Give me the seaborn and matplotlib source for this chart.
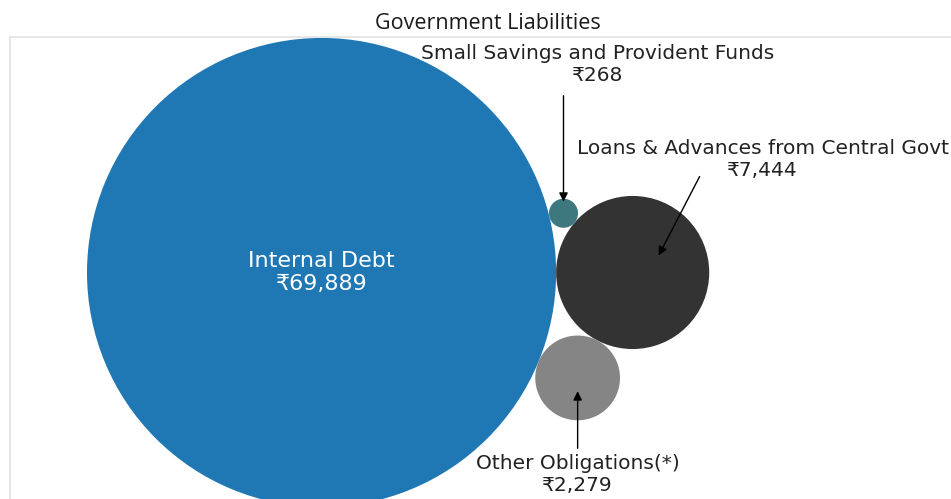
import numpy as np
import pandas as pd
import seaborn as sns
import matplotlib
matplotlib.use("Agg")
import matplotlib.pyplot as plt
from matplotlib.transforms import offset_copy

# Liabilities (₹ crore)
labels = ["Internal Debt", "Loans & Advances from Central Govt",
          "Small Savings and Provident Funds", "Other Obligations(*)"]
values = [69889, 7444, 268, 2279]
colors = ["#1f77b4", "#333333", "#3c787e", "#858585"]

sns.set_theme(style="white")
plt.rcParams["font.family"] = ["DejaVu Sans"]

DPI = 100
fig = plt.figure(figsize=(9.51, 4.99), dpi=DPI)
ax = fig.add_axes([10 / 951, 1 - 508 / 499, 956 / 951, 471 / 499])

# ---- simple circle packing: largest circle at origin, second tangent to its
# right, the remaining two tangent to both (one above, one below) ----
radii = np.sqrt(np.array(values, dtype=float))
rA, rB, rC, rD = radii
cx = np.zeros(4)
cy = np.zeros(4)
cx[1] = rA + rB


def tangent_to_both(r, side):
    d = rA + rB
    p, q = rA + r, rB + r
    a = (d ** 2 + p ** 2 - q ** 2) / (2 * d)
    h = np.sqrt(p ** 2 - a ** 2)
    return a, side * h


cx[2], cy[2] = tangent_to_both(rC, +1)
cx[3], cy[3] = tangent_to_both(rD, -1)

# axis limits chosen so the data aspect is 1:1 inside the axes box
ax_w_px, ax_h_px = 956, 471
yext = rA * 1.004
px_per_unit = ax_h_px / (2 * yext)
x0 = -rA - 77 / px_per_unit
ax.set_xlim(x0, x0 + ax_w_px / px_per_unit)
ax.set_ylim(-yext, yext)

df = pd.DataFrame({"x": cx, "y": cy, "value": values, "label": labels})

# marker area in points^2 proportional to value
d_max_pt = 2 * radii.max() * px_per_unit * 72 / DPI
sns.scatterplot(data=df, x="x", y="y", hue="label", size="value",
                palette=dict(zip(labels, colors)),
                sizes=(0, d_max_pt ** 2), size_norm=(0, max(values)),
                linewidth=0, legend=False, ax=ax, zorder=2)

ax.set_xlabel("")
ax.set_ylabel("")
ax.set_xticks([])
ax.set_yticks([])
for sp in ax.spines.values():
    sp.set_color("#e3e3e3")
    sp.set_linewidth(1.2)

ax.set_title("Government Liabilities", family=["Open Sans", "DejaVu Sans"],
             fontsize=15.5, color="#1a1a1a", pad=6)


def rupee(v):
    return f"\u20b9{v:,}"


txt_color = "#222222"
fs = 14.5

# largest circle labelled inside
ax.annotate(f"{labels[0]}\n{rupee(values[0])}", xy=(cx[0], cy[0]),
            xytext=(0, 0), textcoords="offset points",
            ha="center", va="center", ma="center",
            color="white", fontsize=16, zorder=3)

# callouts: (label index, text offset, arrow tail offset, arrow head offset) in points
callouts = [
    (1, (93.6, 81.4), (48.2, 69.1), (18.7, 12.2)),
    (2, (24.5, 107.0), (0.0, 84.6), (0.0, 8.3)),
    (3, (0.0, -69.4), (0.0, -50.7), (0.0, -9.6)),
]
for i, toff, tail, head in callouts:
    ax.annotate(f"{labels[i]}\n{rupee(values[i])}", xy=(cx[i], cy[i]),
                xytext=toff, textcoords="offset points",
                ha="center", va="center", ma="center",
                color=txt_color, fontsize=fs, zorder=3,
                annotation_clip=False)
    t_head = offset_copy(ax.transData, fig=fig, x=head[0], y=head[1], units="points")
    t_tail = offset_copy(ax.transData, fig=fig, x=tail[0], y=tail[1], units="points")
    ax.annotate("", xy=(cx[i], cy[i]), xycoords=t_head,
                xytext=(cx[i], cy[i]), textcoords=t_tail,
                arrowprops=dict(arrowstyle="-|>", color="black", lw=1.0,
                                shrinkA=0, shrinkB=0, mutation_scale=13),
                zorder=4)

fig.savefig("out.png", dpi=DPI)
